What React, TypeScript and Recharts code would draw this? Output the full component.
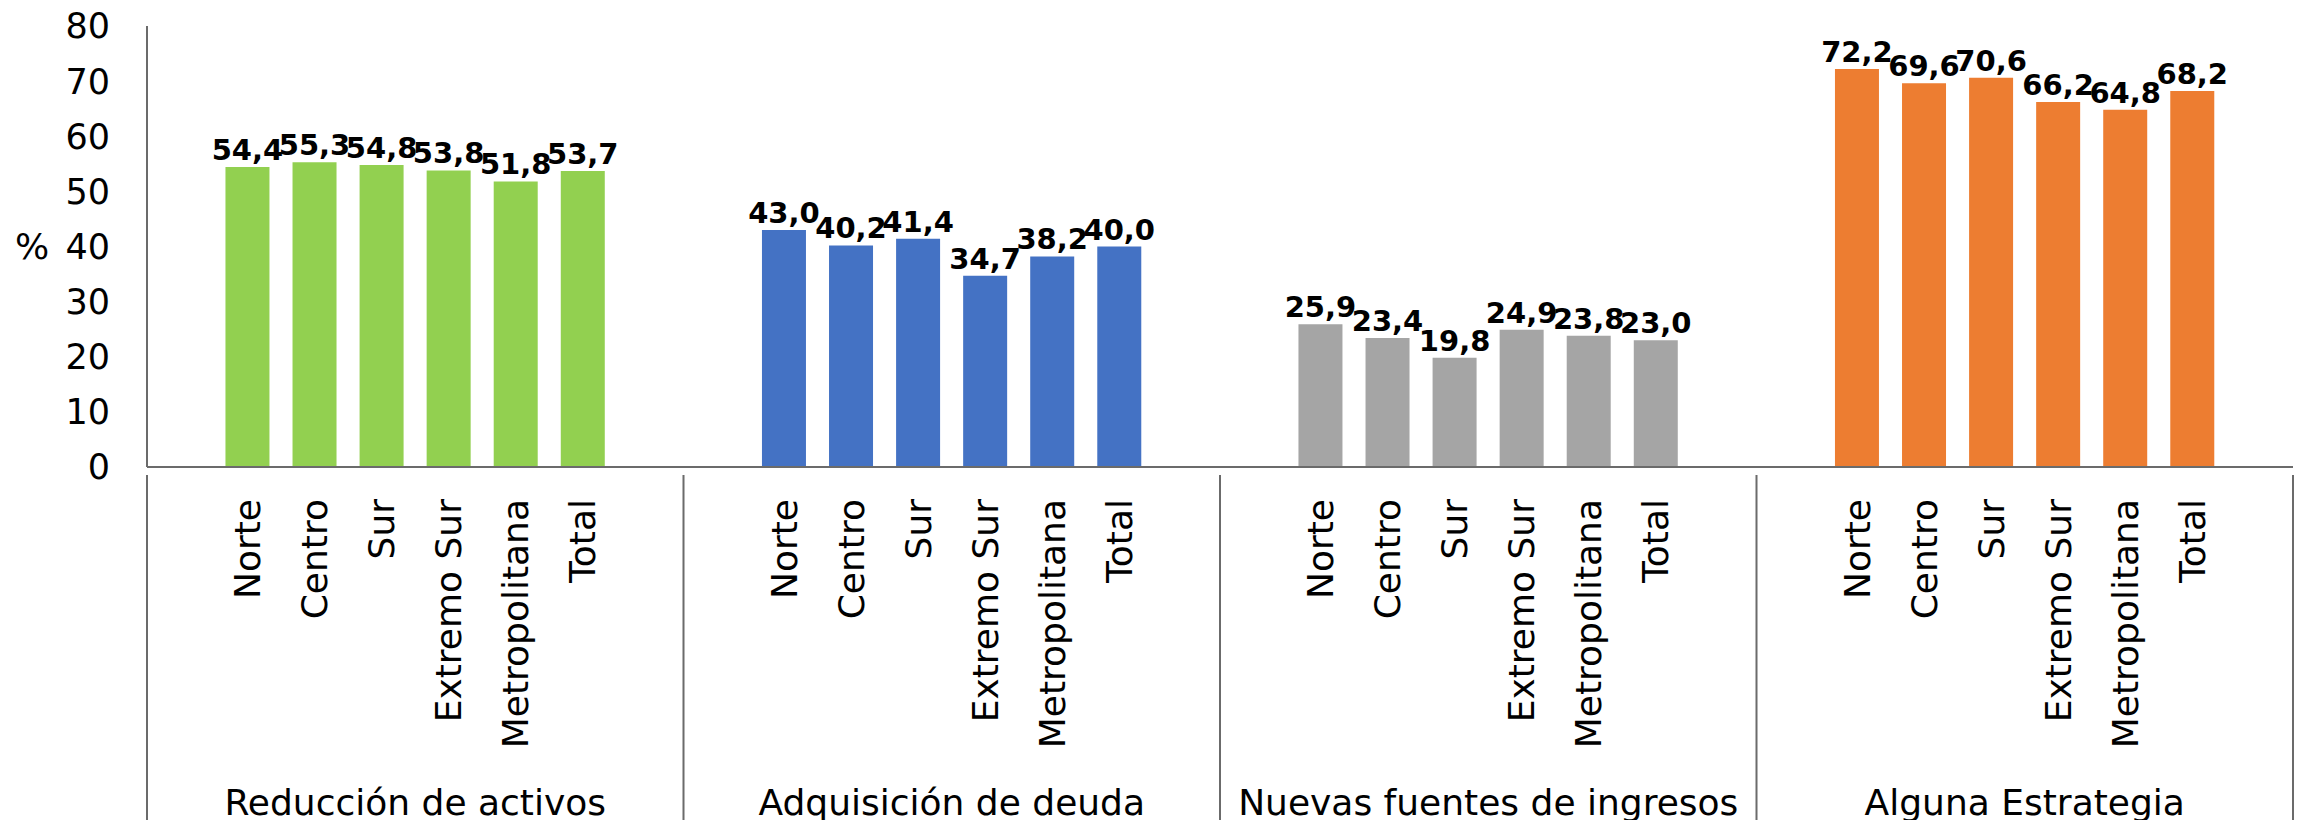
import { Bar, BarChart, Cell, LabelList, XAxis, YAxis } from "recharts";

const groups = ["Reducción de activos", "Adquisición de deuda", "Nuevas fuentes de ingresos", "Alguna Estrategia"];
const regions = ["Norte", "Centro", "Sur", "Extremo Sur", "Metropolitana", "Total"];
const reduccion = [54.4, 55.3, 54.8, 53.8, 51.8, 53.7];
const adquisicion = [43.0, 40.2, 41.4, 34.7, 38.2, 40.0];
const nuevasFuentes = [25.9, 23.4, 19.8, 24.9, 23.8, 23.0];
const algunaEstrategia = [72.2, 69.6, 70.6, 66.2, 64.8, 68.2];
const yTicks = [0, 10, 20, 30, 40, 50, 60, 70, 80];

const groupValues = [reduccion, adquisicion, nuevasFuentes, algunaEstrategia];
const groupColors = ["#92D050", "#4472C4", "#A5A5A5", "#ED7D31"];

const W = 2297;
const H = 820;
const Y_AXIS_W = 147;
const MARGIN_RIGHT = 4;
const CAT_AXIS_H = 290;
const GROUP_AXIS_H = 63;
const PLOT_W = W - Y_AXIS_W - MARGIN_RIGHT;
const FONT = "'DejaVu Sans', Verdana, sans-serif";
const AXIS_COLOR = "#6b6b6b";

// one empty slot each side of a group keeps the gaps between groups
type Row = { key: string; region: string; group: string; value: number | null; color: string };
const rows: Row[] = [];
groups.forEach((g, gi) => {
  rows.push({ key: `${gi}-pre`, region: "", group: g, value: null, color: "none" });
  regions.forEach((r, ri) => {
    rows.push({ key: `${gi}-${ri}`, region: r, group: g, value: groupValues[gi][ri], color: groupColors[gi] });
  });
  rows.push({ key: `${gi}-post`, region: "", group: g, value: null, color: "none" });
});

const fmt = (v: any) => (v == null ? "" : Number(v).toFixed(1).replace(".", ","));

function RegionTick({ x, y, payload }: any) {
  const row = rows.find((r) => r.key === payload.value);
  if (!row || !row.region) return null;
  const ty = y + 24;
  return (
    <text
      x={x}
      y={ty}
      transform={`rotate(-90, ${x}, ${ty})`}
      textAnchor="end"
      dominantBaseline="central"
      fontFamily={FONT}
      fontSize={36}
      fill="#000"
    >
      {row.region}
    </text>
  );
}

function GroupTick({ x, y, payload, index }: any) {
  const half = PLOT_W / groups.length / 2;
  const top = y - CAT_AXIS_H;
  return (
    <g>
      <line x1={x - half} x2={x - half} y1={top} y2={H} stroke={AXIS_COLOR} strokeWidth={2} />
      {index === groups.length - 1 && (
        <line x1={x + half} x2={x + half} y1={top} y2={H} stroke={AXIS_COLOR} strokeWidth={2} />
      )}
      <text x={x} y={y + 50} textAnchor="middle" fontFamily={FONT} fontSize={36} fill="#000">
        {payload.value}
      </text>
    </g>
  );
}

export default function App() {
  return (
    <div style={{ position: "absolute", left: 0, top: 0, background: "#fff" }}>
      <BarChart
        width={W}
        height={H}
        data={rows}
        margin={{ top: 26, right: MARGIN_RIGHT, bottom: 0, left: 0 }}
        barCategoryGap="17%"
      >
        <XAxis
          dataKey="key"
          interval={0}
          height={CAT_AXIS_H}
          tick={<RegionTick />}
          tickLine={false}
          axisLine={{ stroke: AXIS_COLOR, strokeWidth: 2 }}
        />
        <XAxis
          xAxisId="grp"
          dataKey="group"
          allowDuplicatedCategory={false}
          interval={0}
          height={GROUP_AXIS_H}
          tick={<GroupTick />}
          tickLine={false}
          axisLine={false}
        />
        <YAxis
          width={Y_AXIS_W}
          domain={[0, 80]}
          ticks={yTicks}
          interval={0}
          tickSize={0}
          tickMargin={37}
          tick={{ fontSize: 35, fill: "#000", fontFamily: FONT }}
          axisLine={{ stroke: AXIS_COLOR, strokeWidth: 2 }}
          tickLine={false}
          label={{
            value: "%",
            position: "insideLeft",
            offset: 15,
            style: { fontSize: 36, fill: "#000", fontFamily: FONT },
          }}
        />
        <Bar dataKey="value" isAnimationActive={false}>
          {rows.map((r) => (
            <Cell key={r.key} fill={r.color} />
          ))}
          <LabelList
            dataKey="value"
            position="top"
            offset={7}
            formatter={fmt}
            style={{ fontSize: 29, fontWeight: "bold", fill: "#000", fontFamily: FONT }}
          />
        </Bar>
      </BarChart>
    </div>
  );
}
